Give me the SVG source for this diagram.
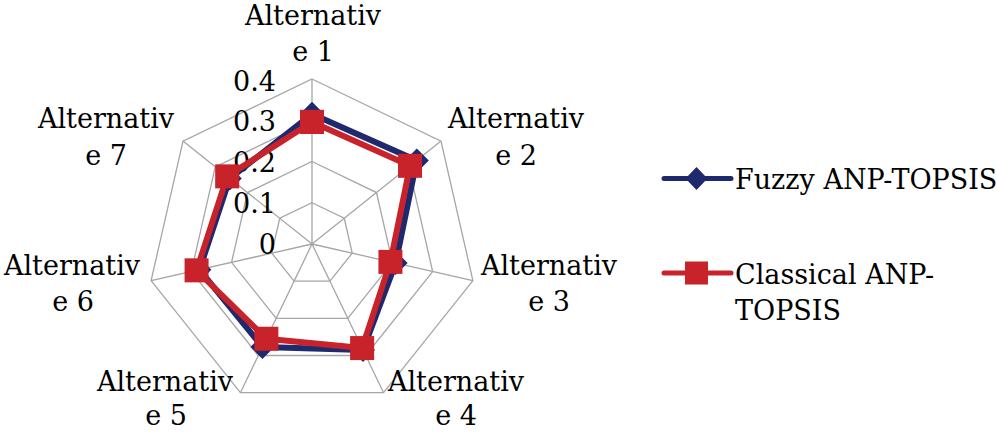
<svg xmlns="http://www.w3.org/2000/svg" width="996" height="432" viewBox="0 0 996 432">
<style>
.grid{fill:none;stroke:#a6a6a6;stroke-width:1.3}
.lbl{font-family:"DejaVu Serif","Liberation Serif",serif;font-size:27px;fill:#000}
.mid{text-anchor:middle}
.end{text-anchor:end}
.fz{fill:none;stroke:#1f2a6e;stroke-width:6;stroke-linejoin:round}
.cl{fill:none;stroke:#c8222a;stroke-width:6;stroke-linejoin:round}
</style>
<defs>
<marker id="dia" markerUnits="userSpaceOnUse" markerWidth="26" markerHeight="26" refX="13" refY="13" viewBox="0 0 26 26" overflow="visible">
<polygon points="13,1 25,13 13,25 1,13" fill="#1f2a6e"/>
</marker>
<marker id="sq" markerUnits="userSpaceOnUse" markerWidth="26" markerHeight="26" refX="13" refY="13" viewBox="0 0 26 26" overflow="visible">
<rect x="1" y="1" width="24" height="24" fill="#c8222a"/>
</marker>
</defs>
<rect width="996" height="432" fill="#fff"/>
<g id="grid">
<polygon class="grid" points="312,202.75 344.25,218.28 352.22,253.18 329.9,281.17 294.1,281.17 271.78,253.18 279.75,218.28"/>
<polygon class="grid" points="312,161.5 376.5,192.56 392.43,262.36 347.8,318.33 276.2,318.33 231.57,262.36 247.5,192.56"/>
<polygon class="grid" points="312,120.25 408.75,166.84 432.65,271.54 365.69,355.49 258.31,355.49 191.35,271.54 215.25,166.84"/>
<polygon class="grid" points="312,79 441,141.1 472.9,280.7 383.6,392.7 240.4,392.7 151.1,280.7 183,141.1"/>
<path class="grid" d="M312,244L312,79M312,244L441,141.1M312,244L472.9,280.7M312,244L383.6,392.7M312,244L240.4,392.7M312,244L151.1,280.7M312,244L183,141.1"/>
</g>
<g id="ticks" class="lbl end">
<text x="276" y="91">0.4</text>
<text x="276" y="131">0.3</text>
<text x="276" y="172">0.2</text>
<text x="276" y="213">0.1</text>
<text x="276" y="254">0</text>
</g>
<g id="series-fuzzy">
<polygon class="fz" points="312,114.06 416.81,160.41 395.65,263.09 363.01,349.92 262.42,346.95 199.4,269.7 229.76,178.42" marker-start="url(#dia)" marker-mid="url(#dia)" marker-end="url(#dia)"/>
</g>
<g id="series-classical">
<polygon class="cl" points="312,121.9 410.04,165.81 390.42,261.9 362.11,348.06 266.36,338.77 196.58,270.34 227.18,176.36" marker-start="url(#sq)" marker-mid="url(#sq)" marker-end="url(#sq)"/>
</g>
<g id="axis-labels" class="lbl mid">
<g id="label-a1"><text x="313" y="25">Alternativ</text><text x="313" y="61">e 1</text></g>
<g id="label-a2"><text x="516" y="128">Alternativ</text><text x="516" y="165">e 2</text></g>
<g id="label-a3"><text x="549" y="275">Alternativ</text><text x="549" y="311">e 3</text></g>
<g id="label-a4"><text x="456" y="391">Alternativ</text><text x="456" y="425">e 4</text></g>
<g id="label-a5"><text x="165" y="391">Alternativ</text><text x="166" y="425">e 5</text></g>
<g id="label-a6"><text x="72" y="275">Alternativ</text><text x="73" y="311">e 6</text></g>
<g id="label-a7"><text x="106" y="128">Alternativ</text><text x="106" y="165">e 7</text></g>
</g>
<g id="legend">
<g id="legend-fuzzy">
<line x1="664" y1="178.5" x2="731" y2="178.5" stroke="#1f2a6e" stroke-width="5" stroke-linecap="round"/>
<polygon points="696.5,167 707.5,178.5 696.5,190 685.5,178.5" fill="#1f2a6e"/>
<text class="lbl" x="735" y="189">Fuzzy ANP-TOPSIS</text>
</g>
<g id="legend-classical">
<line x1="664" y1="273" x2="731" y2="273" stroke="#c8222a" stroke-width="5" stroke-linecap="round"/>
<rect x="685" y="261.5" width="23" height="23" fill="#c8222a"/>
<text class="lbl" x="735" y="284">Classical ANP-</text>
<text class="lbl" x="735" y="320">TOPSIS</text>
</g>
</g>
</svg>
